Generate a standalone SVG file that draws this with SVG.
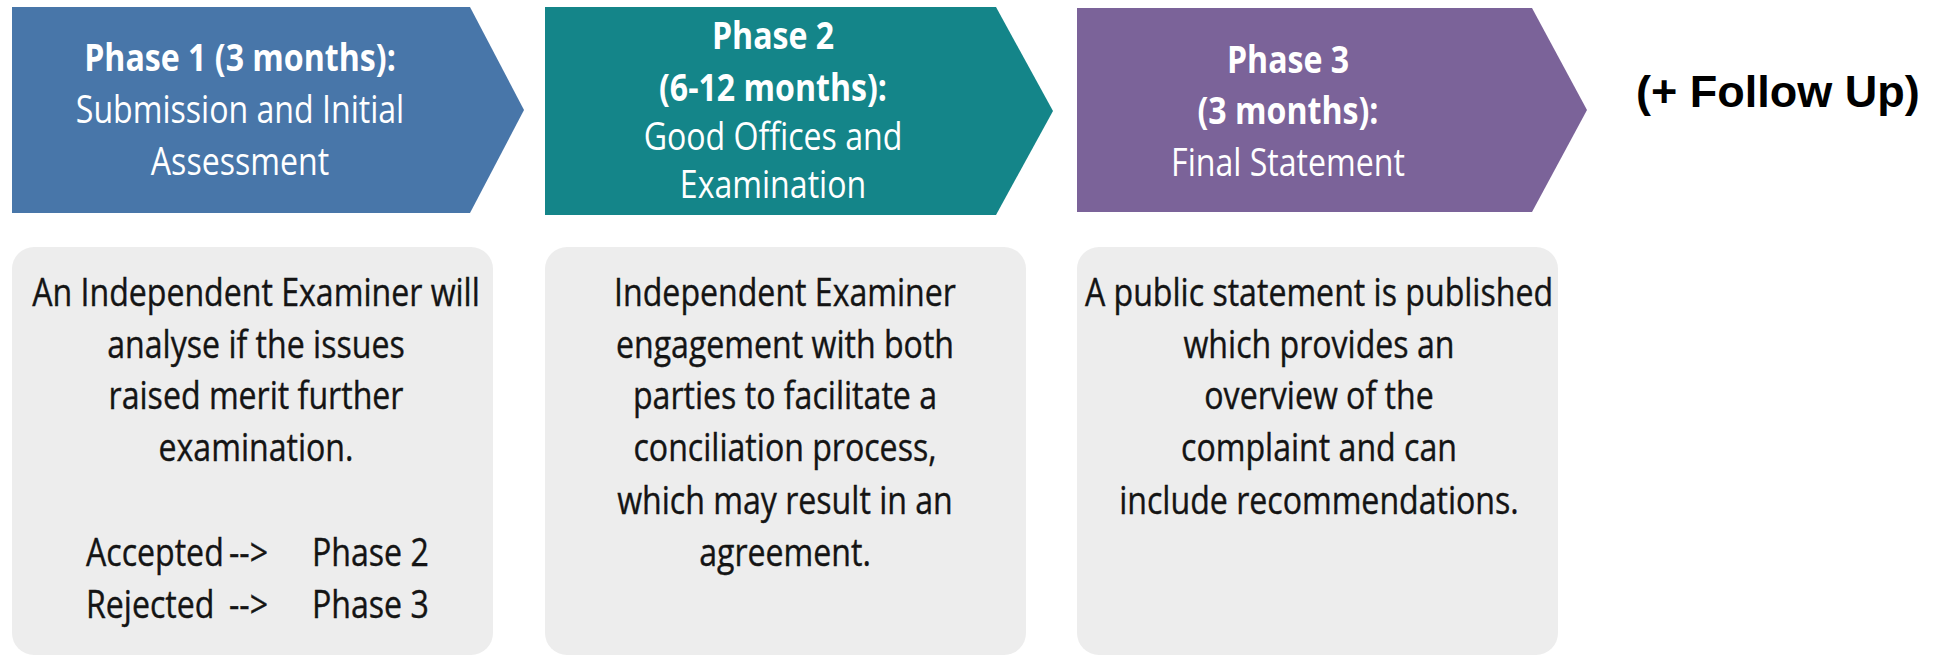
<svg xmlns="http://www.w3.org/2000/svg" width="1949" height="657" viewBox="0 0 1949 657">
  <style>
    .title { font-family: "Open Sans", "DejaVu Sans", sans-serif; font-size: 38px; fill: #ffffff; text-anchor: middle; }
    .bold { font-weight: 700; }
    .body { font-family: "Open Sans", "DejaVu Sans", sans-serif; font-size: 38px; fill: #141414; stroke: #141414; stroke-width: 0.4px; text-anchor: middle; }
    .card { fill: #ededed; }
    .follow { font-family: "Liberation Sans", Arial, sans-serif; font-size: 45px; font-weight: 700; fill: #000000; }
  </style>
  <rect width="1949" height="657" fill="#ffffff"/>

  <!-- Phase 1 chevron -->
  <g id="phase1">
    <polygon points="12,7 470,7 524,110 470,213 12,213" fill="#4876a9"/>
    <g transform="translate(240,0) scale(0.845,1)">
      <text class="title bold" x="0" y="71">Phase 1 (3 months):</text>
      <text class="title" x="0" y="123">Submission and Initial</text>
      <text class="title" x="0" y="175">Assessment</text>
    </g>
  </g>

  <!-- Phase 2 chevron -->
  <g id="phase2">
    <polygon points="545,7 996,7 1053,111 996,215 545,215" fill="#148589"/>
    <g transform="translate(773,0) scale(0.845,1)">
      <text class="title bold" x="0" y="49">Phase 2</text>
      <text class="title bold" x="0" y="101">(6-12 months):</text>
      <text class="title" x="0" y="150">Good Offices and</text>
      <text class="title" x="0" y="198">Examination</text>
    </g>
  </g>

  <!-- Phase 3 chevron -->
  <g id="phase3">
    <polygon points="1077,8 1532,8 1587,110 1532,212 1077,212" fill="#7b6399"/>
    <g transform="translate(1288,0) scale(0.845,1)">
      <text class="title bold" x="0" y="73">Phase 3</text>
      <text class="title bold" x="0" y="124">(3 months):</text>
      <text class="title" x="0" y="176">Final Statement</text>
    </g>
  </g>

  <!-- Follow-up label -->
  <g id="follow-up">
    <text class="follow" x="1636" y="107">(+ Follow Up)</text>
  </g>

  <!-- Description cards -->
  <g id="card1">
    <rect class="card" x="12" y="247" width="481" height="408" rx="22"/>
    <g transform="translate(256,0) scale(0.845,1)">
      <text class="body" x="0" y="306">An Independent Examiner will</text>
      <text class="body" x="0" y="358">analyse if the issues</text>
      <text class="body" x="0" y="409">raised merit further</text>
      <text class="body" x="0" y="461">examination.</text>
    </g>
    <text class="body" transform="translate(86,566) scale(0.845,1)" style="text-anchor:start">Accepted</text>
    <text class="body" transform="translate(268,566) scale(0.845,1)" style="text-anchor:end">--&gt;</text>
    <text class="body" transform="translate(312,566) scale(0.845,1)" style="text-anchor:start">Phase 2</text>
    <text class="body" transform="translate(86,618) scale(0.845,1)" style="text-anchor:start">Rejected</text>
    <text class="body" transform="translate(268,618) scale(0.845,1)" style="text-anchor:end">--&gt;</text>
    <text class="body" transform="translate(312,618) scale(0.845,1)" style="text-anchor:start">Phase 3</text>
  </g>

  <g id="card2">
    <rect class="card" x="545" y="247" width="481" height="408" rx="22"/>
    <g transform="translate(785,0) scale(0.845,1)">
      <text class="body" x="0" y="306">Independent Examiner</text>
      <text class="body" x="0" y="358">engagement with both</text>
      <text class="body" x="0" y="409">parties to facilitate a</text>
      <text class="body" x="0" y="461">conciliation process,</text>
      <text class="body" x="0" y="514">which may result in an</text>
      <text class="body" x="0" y="566">agreement.</text>
    </g>
  </g>

  <g id="card3">
    <rect class="card" x="1077" y="247" width="481" height="408" rx="22"/>
    <g transform="translate(1319,0) scale(0.845,1)">
      <text class="body" x="0" y="306">A public statement is published</text>
      <text class="body" x="0" y="358">which provides an</text>
      <text class="body" x="0" y="409">overview of the</text>
      <text class="body" x="0" y="461">complaint and can</text>
      <text class="body" x="0" y="514">include recommendations.</text>
    </g>
  </g>

  <!-- The chevrons themselves carry the flow; no separate connector lines -->
  <g id="connectors"/>
</svg>
